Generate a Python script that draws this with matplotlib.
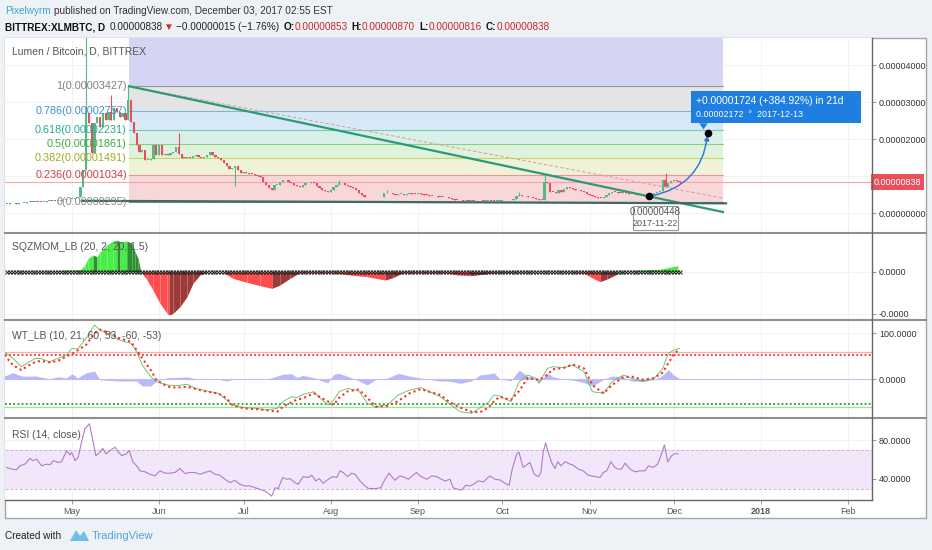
import numpy as np
import matplotlib
matplotlib.use("Agg")
import matplotlib.pyplot as plt
import matplotlib.dates as mdates
from matplotlib.patches import Rectangle, FancyArrowPatch, Polygon
from matplotlib.lines import Line2D
from matplotlib.transforms import blended_transform_factory

plt.rcParams['font.family'] = ['Liberation Sans', 'DejaVu Sans']

# ---- price data: daily closes in satoshi (1e-8 BTC), 2017-04-08 .. 2017-12-03
first_day = '2017-04-08'
close_apr = [255, 258, 260, 257, 262, 268, 275, 290, 300, 305, 310, 298, 290, 310, 330,
             335, 330, 320, 325, 340, 355, 370, 375]
close_may = [380, 400, 430, 700, 1160, 2700, 2430, 1620, 2430, 2600, 2330, 2700, 2510, 2740,
             2510, 2840, 2740, 2600, 2700, 2510, 3050, 2470, 2160, 1840, 1660, 1700, 1430,
             1430, 1460, 1840, 1570]
close_jun = [1840, 1570, 1600, 1570, 1610, 1650, 1790, 1600, 1500, 1480, 1520, 1500, 1530, 1560,
             1520, 1500, 1510, 1560, 1640, 1570, 1520, 1500, 1420, 1350, 1260, 1190, 1210, 1270,
             1150, 1080]
close_jul = [1120, 1090, 1060, 1050, 1030, 1000, 980, 850, 760, 670, 620, 760, 760, 850, 890,
             880, 850, 800, 760, 730, 710, 760, 800, 820, 850, 800, 730, 670, 620, 600, 580]
close_aug = [620, 710, 760, 820, 800, 760, 730, 710, 670, 620, 550, 490, 440, 420, 420, 420,
             430, 420, 440, 530, 550, 530, 510, 500, 510, 510, 500, 510, 530, 520, 510]
close_sep = [530, 510, 490, 480, 470, 460, 450, 440, 430, 430, 420, 400, 380, 360, 350, 340,
             330, 330, 320, 330, 320, 310, 330, 320, 330, 335, 330, 325, 330, 335]
close_oct = [340, 345, 340, 350, 370, 460, 500, 470, 450, 430, 420, 400, 380, 360, 350, 850,
             820, 580, 560, 530, 620, 580, 650, 710, 670, 640, 630, 610, 590, 560, 520]
close_nov = [480, 450, 430, 410, 400, 430, 480, 540, 580, 560, 550, 540, 560, 540, 520, 510,
             510, 500, 490, 480, 470, 460, 490, 530, 560, 590, 900, 710, 820, 860]
close_dec = [880, 853, 838]

high_fix_days = ['2017-05-06', '2017-05-15', '2017-05-21', '2017-06-08', '2017-08-04',
                 '2017-08-21', '2017-10-07', '2017-10-16', '2017-11-28', '2017-12-03']
high_fix_vals = [5200, 3190, 3427, 2150, 900, 620, 580, 1030, 1070, 870]
low_fix_days = ['2017-06-28', '2017-11-22', '2017-12-03']
low_fix_vals = [730, 448, 816]

# fib retracement levels (satoshi) and drawings, x in days after 2017-05-01
fib_ratio = ['0', '0.236', '0.382', '0.5', '0.618', '0.786', '1', '1.618']
fib_price = [295, 1034, 1491, 1861, 2231, 2757, 3427, 5363]
fib_days = [20.3, 231.4]
trend_days, trend_price = [20.3, 231.4], [3427, 27]
support_days, support_price = [3.5, 232.5], [330, 262]
dashed_days, dashed_price = [20.3, 231.4], [3427, 405]
proj_days, proj_price = [205, 226], [448, 2172]
last_price = 838

# ---- SQZMOM (satoshi-like units), days after 2017-05-01
sqz_day = [-25, -18, -12, -6, -3, 0, 3, 4.6, 5.7, 7.5, 8.9, 10, 12.4, 14.6, 16, 17.1, 19.5,
           21.3, 22.4, 23.5, 24.5, 26.7, 28.8, 31.3, 33.8, 34.5, 35.9, 38.4, 40.9, 43, 45.5,
           48, 53.7, 57.2, 62.2, 66.8, 71.1, 73.9, 77.5, 81, 92.8, 98.8, 104.9, 111.3, 114.1,
           117.7, 133.3, 136.9, 141.5, 144, 149.7, 165, 168.9, 171, 181.7, 184.1, 187.7,
           190.2, 193.7, 197.3, 201.9, 209, 211.5, 215.4]
sqz_val = [-10, 15, -10, 10, 30, 40, 45, 160, 318, 397, 357, 476, 635, 730, 754, 714, 730,
           675, 476, 318, 0, -198, -437, -754, -992, -1032, -992, -834, -596, -278, -79,
           -16, -16, -159, -254, -333, -397, -318, -159, -24, -24, -79, -119, -198, -143,
           -24, -24, -79, -95, -79, -24, -5, 16, 0, -24, -119, -238, -175, -64, 0, 40, 56,
           95, 143]

# ---- WaveTrend, days after 2017-05-01
wt_day = [-24, -21, -18, -16, -13, -11, -8, -5, -2, 0, 2, 5, 8, 10, 14, 17, 21, 23, 25, 28,
          30, 34, 37, 41, 44, 48, 52, 55, 57, 61, 66, 69, 73, 75, 78, 80, 82, 86, 88, 91,
          93, 95, 98, 102, 105, 108, 112, 116, 120, 124, 127, 131, 134, 138, 142, 145, 148,
          150, 152, 156, 159, 162, 165, 166, 169, 171, 175, 178, 182, 185, 189, 192, 196,
          199, 203, 207, 210, 212, 214, 216]
wt1 = [60, 45.6, 27.5, 34.7, 45.6, 45, 38, 45.6, 52.8, 67.3, 65.9, 89, 118, 107, 96.3,
       85.4, 78.2, 60, 31, 5.8, -5, -12.3, -13.8, -10.9, -19.6, -25.4, -30.4, -44.9, -55.8,
       -61.6, -63, -66.7, -63, -48.5, -37.7, -39.8, -32.6, -26.8, -39.8, -55.6, -44.9,
       -26.8, -19.6, -25.4, -52.2, -59.4, -55.6, -34, -23.2, -18.1, -26.8, -37.7, -52.2,
       -70.3, -73.9, -62, -50, -34, -36, -48.5, -5, 9.4, 2.2, -8.7, 23.8, 27.5, 25.2, 31,
       16.6, -26.8, -30.4, -5, 9.4, 2.2, -5, 2.2, 23.8, 56.4, 63.6, 67.3]
wt2 = [52.8, 31, 20.2, 28, 38, 40, 37, 40, 50, 55, 63, 75, 100, 108, 99, 89, 81.6, 63.6,
       45.6, 20.2, -1.5, -16, -18, -16, -21, -26.8, -30.4, -41.3, -55.6, -63, -65, -66.7,
       -70.3, -59.4, -50, -44, -41.3, -30.4, -38, -48, -55.6, -40, -26, -22, -40, -59.4,
       -58, -47, -30.4, -21, -26.8, -34, -48.5, -61.6, -70.3, -71.7, -61.6, -48, -37.7,
       -44.9, -25, 3, 0, -1.5, 10, 22, 25.2, 32.4, 23.8, -12.3, -30.4, -12.3, 5, 6, -1,
       3, 15, 35, 55, 65.9]

# ---- RSI(14), days after 2017-05-01
rsi_day = [-23.2, -21.4, -19.7, -18.5, -16.7, -14.9, -13.8, -12.6, -10.8, -9,
           -7.8, -6.6, -4.9, -3.7, -1.9, -0.7, -0.1, 1.1, 2.2, 3.4,
           4.6, 6.2, 7.4, 8.5, 10, 10.9, 12.1, 13.5, 15.3, 16.5,
           17.7, 19.2, 20.4, 21.6, 23, 24.2, 26, 27.7, 29.5, 31.3,
           33.1, 34.8, 36.6, 38.4, 40.2, 41.9, 43.7, 45.5, 47.3, 49.1,
           50.8, 52.6, 54.4, 56.2, 57.9, 59.7, 61.5, 63.3, 65.1, 66.8,
           68.6, 69.8, 71, 72.2, 73.3, 74.9, 76.3, 77.5, 79.3, 80.4,
           82.2, 84, 85.2, 86.7, 87.9, 89.3, 91.1, 92.7, 94.1, 95.3,
           96.4, 98, 99.4, 100.6, 102.4, 104.2, 105.3, 107.7, 109.8, 111.3,
           112.7, 114.8, 116.6, 118.4, 119.6, 121, 122.5, 123.7, 124.9, 126.1,
           127.9, 129.6, 131.4, 132.6, 134.4, 135.5, 137.3, 138.5, 140, 141.5,
           142.7, 144.4, 146.2, 148.6, 150.4, 152.2, 153.9, 155.4, 156.5, 158.1,
           158.9, 160.4, 162, 162.8, 164.3, 165.8, 166.7, 167.5, 168.4, 169.3,
           170.5, 171.7, 172.7, 173.8, 175.3, 177, 178.2, 180, 181.8, 183.5,
           185.9, 187.7, 188.9, 190.1, 191.6, 193, 194.2, 195.4, 196.6, 198.4,
           200.1, 201.9, 203.7, 204.9, 206.6, 208.2, 209.4, 210.6, 211.8, 213.2,
           214.4, 215.5]
rsi_val = [51.9, 50.2, 49.5, 53.6, 55.4, 61.3, 58.9, 60.6, 53.6, 55.4,
           54.7, 58.9, 57.1, 57.8, 69.3, 64.8, 67.6, 58.9, 62.3, 78,
           91.9, 97.1, 79.7, 64.1, 67.6, 71.7, 65.8, 69.3, 72.8, 67.6,
           64.1, 65.8, 69.3, 57.8, 53.6, 48.4, 47.4, 44.9, 43.2, 48.4,
           46, 46, 46.7, 50.9, 45.6, 46.7, 46.7, 44.9, 46.7, 48.4,
           44.9, 43.9, 39.7, 36.2, 38.7, 34.5, 32.8, 32.8, 31, 29.3,
           27.5, 25.1, 22.3, 31, 30, 41.5, 39.7, 40.4, 36.2, 34.5,
           42.5, 41.5, 43.9, 38, 40.4, 35.6, 39.7, 42.5, 41.5, 48.4,
           46.7, 42.5, 46, 45, 38, 32.8, 30.3, 30, 31, 39.7,
           46, 38.7, 43.2, 41.5, 39.7, 43.2, 46.7, 43.2, 41.5, 39.7,
           43.2, 42.5, 39.7, 38, 39.7, 31, 29.3, 28.6, 33.5, 32.8,
           34.5, 38, 37, 43.2, 39.7, 39, 35.6, 33.5, 50.2, 65.8,
           67.6, 51.9, 55.4, 57.1, 44.9, 42.5, 46.7, 67.6, 77.3, 67.6,
           57.1, 50.9, 57.8, 53.6, 57.8, 55.4, 54.3, 50.2, 48.4, 43.9,
           42.5, 41.5, 46.7, 48.4, 57.8, 51.9, 50.2, 50.2, 56.4, 50.2,
           47.4, 48.4, 48.4, 53.6, 51.9, 55.4, 64.1, 75.2, 57.8, 64.1,
           66.5, 65.8]

month_ticks = ['2017-05-01', '2017-06-01', '2017-07-01', '2017-08-01', '2017-09-01',
               '2017-10-01', '2017-11-01', '2017-12-01', '2018-01-01', '2018-02-01']
month_labels = ['May', 'Jun', 'Jul', 'Aug', 'Sep', 'Oct', 'Nov', 'Dec', '2018', 'Feb']

# ---------------------------------------------------------------------------
W, H = 932, 550
fig = plt.figure(figsize=(W / 100, H / 100), dpi=100, facecolor='#eef1f5')


def fx(px):
    return px / W


def fy(py):
    return 1 - py / H


def panel(top, bottom, share=None):
    return fig.add_axes([fx(5), fy(bottom), fx(872) - fx(5), (bottom - top) / H], sharex=share)


fig.add_artist(Rectangle((fx(5), fy(518)), fx(926) - fx(5), (518 - 38) / H,
                         transform=fig.transFigure, facecolor='white',
                         edgecolor='#a5a5a5', lw=1, zorder=-5))

ax_p = panel(38, 233)
ax_s = panel(233, 320, ax_p)
ax_w = panel(320, 418, ax_p)
ax_r = panel(418, 500, ax_p)

day0 = mdates.date2num(np.datetime64('2017-05-01'))


def dx(days):
    return day0 + np.asarray(days, dtype=float)


for ax in (ax_p, ax_s, ax_w, ax_r):
    ax.set_facecolor('white')
    for sp in ax.spines.values():
        sp.set_visible(False)
    ax.yaxis.tick_right()
    ax.tick_params(axis='y', direction='out', length=3, width=0.6, color='#888888',
                   labelsize=6.5, labelcolor='#333333', pad=2)
    ax.tick_params(axis='x', length=0, labelbottom=False)
    ax.grid(True, color='#f0f0f0', lw=0.6)
    ax.set_axisbelow(True)

ax_p.set_xlim(dx(-23.8), dx(284.4))
ax_r.set_xticks(mdates.date2num(np.array(month_ticks, dtype='datetime64[D]')))
ax_r.set_xticklabels(month_labels)
ax_r.tick_params(axis='x', length=3, width=0.6, color='#888888', labelbottom=True,
                 labelsize=6.5, labelcolor='#555555', pad=2)
ax_r.get_xticklabels()[8].set_fontweight('bold')

# ---- main price panel
closes = np.array(close_apr + close_may + close_jun + close_jul + close_aug + close_sep
                  + close_oct + close_nov + close_dec, dtype=float)
start = np.datetime64(first_day)
cday = np.arange(start, start + len(closes))
cdates = mdates.date2num(cday)
opens = np.r_[closes[0], closes[:-1]]
highs = np.maximum(opens, closes)
lows = np.minimum(opens, closes)
for d, v in zip(high_fix_days, high_fix_vals):
    highs[cday == np.datetime64(d)] = v
for d, v in zip(low_fix_days, low_fix_vals):
    lows[cday == np.datetime64(d)] = v

ax_p.set_ylim(-540, 4730)
price_ticks = [0, 1000, 2000, 3000, 4000]
ax_p.set_yticks(price_ticks)
# the 0.00001000 label sits under the last-price tag
ax_p.set_yticklabels(['' if v == 1000 else f'{v * 1e-8:.8f}' for v in price_ticks])

fill_cols = ['#f8d7d9', '#eef3d8', '#dff2dc', '#d8f0e7', '#d7e9f7', '#e4e4e4', '#d4d4f3']
line_cols = ['#8a8a8a', '#f19196', '#c9d36b', '#88cf88', '#72cfb2', '#7ab6e2', '#9a9a9a']
text_cols = ['#8a8a8a', '#d33d45', '#a2aa22', '#3aab3a', '#27a98a', '#3b8fcf', '#808080']
fx0, fx1 = dx(fib_days)
for i in range(len(fib_price) - 1):
    ax_p.fill_between([fx0, fx1], fib_price[i], fib_price[i + 1], color=fill_cols[i],
                      lw=0, zorder=1)
for i in range(len(fib_price) - 1):
    ax_p.plot([fx0, fx1], [fib_price[i]] * 2, color=line_cols[i], lw=0.8, zorder=1.5)
    ax_p.text(fx0 - 0.8, fib_price[i], f'{fib_ratio[i]}({fib_price[i] * 1e-8:.8f})',
              ha='right', va='center', fontsize=7.8, color=text_cols[i], zorder=6)

ax_p.axhline(last_price, color='#f4a4aa', lw=0.8, zorder=2)

up = closes >= opens
cols = np.where(up, '#53b987', '#eb4d5c')
ax_p.vlines(cdates, lows, highs, colors=cols, lw=0.8, zorder=3)
ax_p.bar(cdates, np.maximum(np.abs(closes - opens), 22), bottom=np.minimum(opens, closes),
         width=0.8, color=cols, lw=0, zorder=3)

ax_p.plot(dx(dashed_days), dashed_price, color='#d6a3a8', lw=0.8, ls=(0, (3, 2)), zorder=4)
ax_p.plot(dx(trend_days), trend_price, color='#2a9a77', lw=1.6, zorder=4)
ax_p.plot(dx(support_days), support_price, color='#3c6b66', lw=1.6, zorder=4)

arr = FancyArrowPatch((dx(proj_days[0]), proj_price[0]), (dx(proj_days[1]), proj_price[1]),
                      connectionstyle='arc3,rad=0.38', arrowstyle='-|>', mutation_scale=7,
                      color='#2f72d8', lw=1, zorder=5)
ax_p.add_patch(arr)
ax_p.plot(dx(proj_days), proj_price, 'o', color='black', ms=4.5, zorder=6)

# point label under the start of the projection
ax_p.add_patch(Rectangle((dx(199.4), -470), 16.0, 660, facecolor='white',
                         edgecolor='#9a9a9a', lw=0.8, zorder=6))
ax_p.text(dx(207.4), 30, '0.00000448', ha='center', va='center', fontsize=7,
          color='#555555', zorder=7)
ax_p.text(dx(207.4), -290, '2017-11-22', ha='center', va='center', fontsize=6.5,
          color='#555555', zorder=7)

# projection box
ax_p.add_patch(Rectangle((dx(220), 2420), 60.5, 880, facecolor='#1e7fe0',
                         edgecolor='none', zorder=6))
ax_p.add_patch(Polygon([[dx(223), 2425], [dx(226), 2425], [dx(224.5), 2260]],
                       closed=True, facecolor='#1e7fe0', edgecolor='none', zorder=6))
ax_p.text(dx(222), 3030, '+0.00001724 (+384.92%) in 21d', ha='left', va='center',
          fontsize=7.4, color='white', zorder=7)
ax_p.text(dx(222), 2650, '0.00002172  \u00b0  2017-12-13', ha='left', va='center',
          fontsize=6.4, color='white', zorder=7)

tr = blended_transform_factory(ax_p.transAxes, ax_p.transData)
ax_p.text(1.002, last_price, '0.00000838', transform=tr, ha='left', va='center',
          fontsize=6.5, color='white', zorder=10, clip_on=False,
          bbox=dict(facecolor='#e8505b', edgecolor='none', pad=2.2))

# ---- SQZMOM
ax_s.set_ylim(-1150, 921)
ax_s.set_yticks([-1000, 0])
ax_s.set_yticklabels(['-0.0000', '0.0000'])
sx = dx(sqz_day)
for i in range(len(sqz_val) - 1):
    v0, v1 = sqz_val[i], sqz_val[i + 1]
    if v1 >= 0:
        c = '#46ee46' if v1 >= v0 else '#2f8f2f'
    else:
        c = '#ff4d4d' if v1 <= v0 else '#9e3a3a'
    ax_s.fill_between(sx[i:i + 2], [v0, v1], 0, color=c, lw=0, zorder=2)
ax_s.plot(cdates, np.zeros(len(cdates)), 'x', color='#222222', ms=2.6, mew=0.7, zorder=3)

# ---- WaveTrend
ax_w.set_ylim(-84, 129)
ax_w.set_yticks([0, 100])
ax_w.set_yticklabels(['0.0000', '100.0000'])
wx = dx(wt_day)
w1 = np.array(wt1)
w2 = np.array(wt2)
ax_w.axhline(60, color='#f7b0b0', lw=0.9, zorder=1)
ax_w.axhline(53, color='#ff2a2a', lw=1.3, ls=(0, (1, 1.3)), zorder=1)
ax_w.axhline(-60, color='#9fdf9f', lw=0.9, zorder=1)
ax_w.axhline(-53, color='#22a022', lw=1.3, ls=(0, (1, 1.3)), zorder=1)
ax_w.axhline(0, color='#c2c2f5', lw=0.8, zorder=1)
ax_w.fill_between(wx, w1 - w2, 0, color='#b9b9f7', lw=0, zorder=2)
ax_w.plot(wx, w1, color='#5cbf5c', lw=0.6, zorder=3)
ax_w.plot(wx, w2, color='#ff2a2a', lw=1.5, ls=(0, (1, 1.5)), zorder=4)

# ---- RSI
ax_r.set_ylim(18.3, 103.0)
ax_r.set_yticks([40, 80])
ax_r.set_yticklabels(['40.0000', '80.0000'])
ax_r.axhspan(30, 70, color='#f2e6fb', lw=0, zorder=1)
ax_r.axhline(70, color='#c9b3d8', lw=0.7, ls=(0, (3, 2)), zorder=1.5)
ax_r.axhline(30, color='#c9b3d8', lw=0.7, ls=(0, (3, 2)), zorder=1.5)
ax_r.plot(dx(rsi_day), rsi_val, color='#b07cc6', lw=0.8, zorder=3)

# ---- panel separators and frame lines
for y in (233, 320, 418):
    fig.add_artist(Line2D([fx(5), fx(926)], [fy(y), fy(y)], color='#8f8f8f', lw=1.5,
                          transform=fig.transFigure, zorder=20))
fig.add_artist(Line2D([fx(5), fx(872)], [fy(500), fy(500)], color='#666666', lw=1,
                      transform=fig.transFigure, zorder=20))
fig.add_artist(Line2D([fx(872), fx(872)], [fy(38), fy(500)], color='#666666', lw=1,
                      transform=fig.transFigure, zorder=20))

# ---- panel titles
for txt, y in [('Lumen / Bitcoin, D, BITTREX', 52), ('SQZMOM_LB (20, 2, 20, 1.5)', 247),
               ('WT_LB (10, 21, 60, 53, -60, -53)', 336), ('RSI (14, close)', 435)]:
    fig.text(fx(12), fy(y), txt, fontsize=7.5, color='#555555', va='center', zorder=25)

# ---- header and footer
renderer = fig.canvas.get_renderer()


def chain(x_px, y_px, parts, size):
    x = fx(x_px)
    for s, col, weight, gap in parts:
        t = fig.text(x, fy(y_px), s, fontsize=size, color=col, fontweight=weight,
                     va='center', ha='left')
        bb = t.get_window_extent(renderer)
        x = fig.transFigure.inverted().transform((bb.x1 + gap, bb.y0))[0]


chain(5, 11, [('Pixelwyrm', '#3ca4dc', 'normal', 3),
              ('published on TradingView.com, December 03, 2017 02:55 EST', '#333333',
               'normal', 0)], 7.2)
red = '#c62828'
chain(5, 27, [('BITTREX:XLMBTC, D', '#111111', 'bold', 4),
              ('0.00000838', '#222222', 'normal', 2),
              ('\u25bc', '#d32f2f', 'normal', 2),
              ('\u22120.00000015 (\u22121.76%)', '#222222', 'normal', 4),
              ('O:', '#111111', 'bold', 0), ('0.00000853', red, 'normal', 4),
              ('H:', '#111111', 'bold', 0), ('0.00000870', red, 'normal', 4),
              ('L:', '#111111', 'bold', 0), ('0.00000816', red, 'normal', 4),
              ('C:', '#111111', 'bold', 0), ('0.00000838', red, 'normal', 0)], 7.2)

fig.text(fx(5), fy(536), 'Created with', fontsize=7.2, color='#222222', va='center')
fig.add_artist(Polygon([[fx(70), fy(541)], [fx(76), fy(530)], [fx(80), fy(536)],
                        [fx(84), fy(531)], [fx(89), fy(541)]], closed=True,
                       transform=fig.transFigure, facecolor='#6ec0e8', edgecolor='none'))
fig.text(fx(92), fy(536), 'TradingView', fontsize=8, color='#4aa8dc', va='center')

fig.savefig('out.png', dpi=100, facecolor=fig.get_facecolor())
